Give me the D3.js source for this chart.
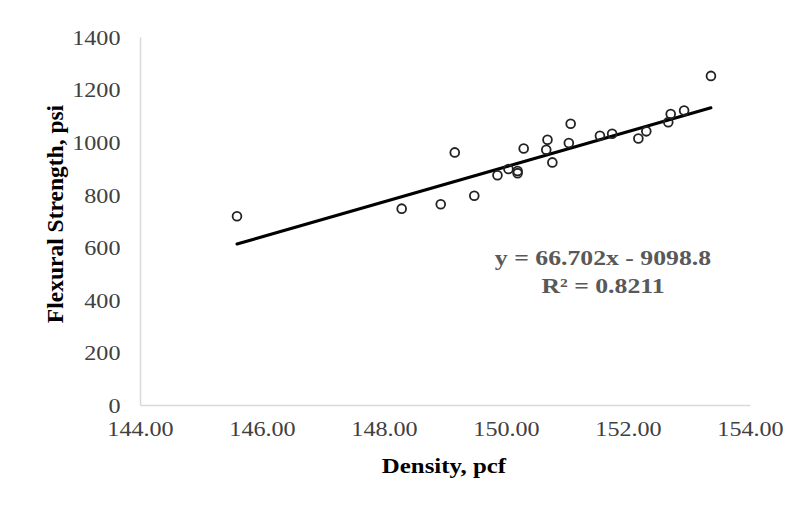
<!DOCTYPE html>
<html>
<head>
<meta charset="utf-8">
<script src="https://cdn.jsdelivr.net/npm/d3@7"></script>
<style>
  html, body { margin: 0; padding: 0; background: #fff; }
  svg { display: block; }
</style>
</head>
<body>
<svg id="chart" width="794" height="506"></svg>
<script>
// Data
const density = [145.59, 148.29, 148.93, 149.48, 149.16, 149.86, 150.04, 150.19, 150.19,
                 150.29, 150.68, 150.66, 150.76, 151.06, 151.03, 151.54, 151.74, 152.17,
                 152.30, 152.66, 152.70, 152.92, 153.36];
const strength = [718, 747, 764, 796, 961, 874, 898, 890, 882,
                  976, 1009, 971, 923, 1070, 997, 1024, 1032, 1014,
                  1041, 1076, 1107, 1120, 1252];
const trendSlope = 66.702;
const trendIntercept = -9098.8;
const xTicks = [144, 146, 148, 150, 152, 154];
const yTicks = [0, 200, 400, 600, 800, 1000, 1200, 1400];
const xTitle = "Density, pcf";
const yTitle = "Flexural Strength, psi";
const eqLines = ["y = 66.702x - 9098.8", "R² = 0.8211"];

const FONT = "'Liberation Serif', 'Times New Roman', serif";
const svg = d3.select("#chart");
const x = d3.scaleLinear().domain([144, 154]).range([140, 750]);
const y = d3.scaleLinear().domain([0, 1400]).range([405, 37]);

// Axes
const xAxis = d3.axisBottom(x).tickValues(xTicks).tickSize(0).tickPadding(18)
  .tickFormat(d3.format(".2f"));
const yAxis = d3.axisLeft(y).tickValues(yTicks).tickSize(0).tickPadding(17)
  .tickFormat(d3.format("d"));

const gx = svg.append("g").attr("transform", `translate(0,${y(0)})`).call(xAxis);
const gy = svg.append("g").attr("transform", `translate(${x(144)},0)`).call(yAxis);

[gx, gy].forEach(g => {
  g.select(".domain").attr("stroke", "#d9d9d9").attr("stroke-width", 1.5);
  g.selectAll("text")
    .attr("font-family", FONT)
    .attr("font-size", 21)
    .attr("fill", "#404040")
    .attr("transform", "scale(1.15,1)");
});
gx.selectAll("text").attr("dy", "0.62em");
gy.selectAll("text").attr("dy", "0.35em");

// Trendline
const xs = d3.extent(density);
svg.append("line")
  .attr("x1", x(xs[0])).attr("y1", y(trendSlope * xs[0] + trendIntercept))
  .attr("x2", x(xs[1])).attr("y2", y(trendSlope * xs[1] + trendIntercept))
  .attr("stroke", "#000").attr("stroke-width", 3).attr("stroke-linecap", "round");

// Points
svg.append("g").selectAll("circle")
  .data(density.map((d, i) => [d, strength[i]]))
  .join("circle")
  .attr("cx", d => x(d[0]))
  .attr("cy", d => y(d[1]))
  .attr("r", 4.4)
  .attr("fill", "none")
  .attr("stroke", "#222")
  .attr("stroke-width", 1.8);

// Equation
svg.append("g").selectAll("text")
  .data(eqLines)
  .join("text")
  .attr("transform", (d, i) => `translate(603,${257 + i * 28}) scale(1.17,1)`)
  .attr("dy", "0.35em")
  .attr("text-anchor", "middle")
  .attr("font-family", FONT)
  .attr("font-weight", "bold")
  .attr("font-size", 22)
  .attr("fill", "#595959")
  .text(d => d);

// Axis titles
svg.append("text")
  .attr("transform", "translate(444,465) scale(1.13,1)")
  .attr("dy", "0.35em")
  .attr("text-anchor", "middle")
  .attr("font-family", FONT)
  .attr("font-weight", "bold").attr("font-size", 22)
  .attr("fill", "#000")
  .text(xTitle);

svg.append("text")
  .attr("transform", "translate(55,214) rotate(-90)")
  .attr("dy", "0.35em")
  .attr("text-anchor", "middle")
  .attr("font-family", FONT)
  .attr("font-weight", "bold").attr("font-size", 23.5)
  .attr("fill", "#000")
  .text(yTitle);
</script>
</body>
</html>
